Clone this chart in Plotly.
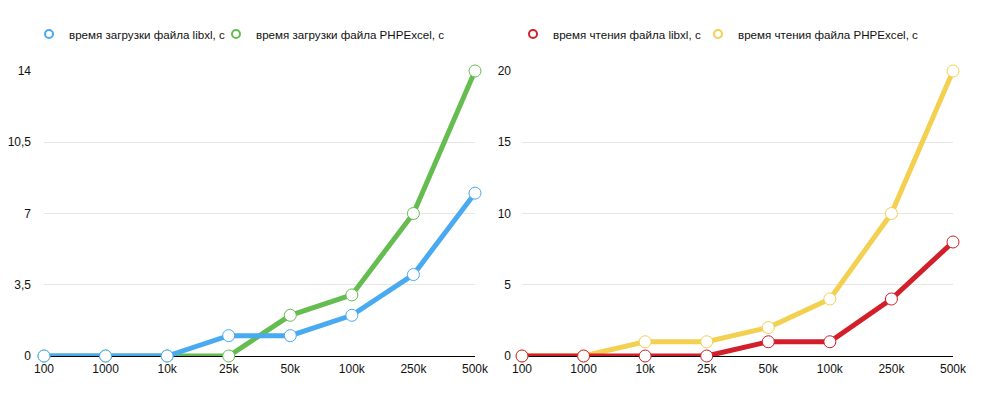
import plotly.graph_objects as go

categories = ["100", "1000", "10k", "25k", "50k", "100k", "250k", "500k"]
load_libxl = [0, 0, 0, 1, 1, 2, 4, 8]
load_phpexcel = [0, 0, 0, 0, 2, 3, 7, 14]
read_libxl = [0, 0, 0, 0, 1, 1, 4, 8]
read_phpexcel = [0, 0, 1, 1, 2, 4, 10, 20]

left_ticks = [0, 3.5, 7, 10.5, 14]
left_tick_text = ["0", "3,5", "7", "10,5", "14"]
right_ticks = [0, 5, 10, 15, 20]
right_tick_text = ["0", "5", "10", "15", "20"]

BLUE = "#4aaaf0"
GREEN = "#65bd50"
RED = "#d21f2a"
YELLOW = "#f4d050"

W, H = 988, 409

def trace(y, name, color, xa, ya):
    return go.Scatter(
        x=categories, y=y, name=name, mode="lines+markers",
        line=dict(color=color, width=5),
        marker=dict(size=12, color="white", line=dict(color=color, width=1)),
        xaxis=xa, yaxis=ya, showlegend=False, cliponaxis=False,
    )

def legend_entry(name, color, xa, ya, legend):
    return go.Scatter(
        x=[None], y=[None], name=name, mode="markers",
        marker=dict(size=8, color="white", line=dict(color=color, width=2)),
        xaxis=xa, yaxis=ya, legend=legend, showlegend=True,
    )

fig = go.Figure()
# lower layers first so the first series of each chart is drawn on top
fig.add_trace(trace(load_phpexcel, "время загрузки файла PHPExcel, с", GREEN, "x", "y"))
fig.add_trace(trace(load_libxl, "время загрузки файла libxl, с", BLUE, "x", "y"))
fig.add_trace(trace(read_phpexcel, "время чтения файла PHPExcel, с", YELLOW, "x2", "y2"))
fig.add_trace(trace(read_libxl, "время чтения файла libxl, с", RED, "x2", "y2"))

fig.add_trace(legend_entry("время загрузки файла libxl, с", BLUE, "x", "y", "legend"))
fig.add_trace(legend_entry("время загрузки файла PHPExcel, с", GREEN, "x", "y", "legend2"))
fig.add_trace(legend_entry("время чтения файла libxl, с", RED, "x2", "y2", "legend3"))
fig.add_trace(legend_entry("время чтения файла PHPExcel, с", YELLOW, "x2", "y2", "legend4"))

ydom = [(H - 356) / H, (H - 71) / H]
font = dict(family="Liberation Sans, Arial, sans-serif", size=12, color="#111111")
legfont = dict(family="Liberation Sans, Arial, sans-serif", size=11.6, color="#111111")

xcommon = dict(
    type="category", range=[0, 7], showgrid=False, zeroline=False,
    showline=True, linecolor="#000000", linewidth=1, layer="below traces",
    ticks="", ticklabelstandoff=2, tickfont=font, fixedrange=True,
    automargin=False,
)
ycommon = dict(
    showgrid=True, gridcolor="#e6e6e6", gridwidth=1, zeroline=False,
    showline=False, ticks="", tickfont=font, layer="below traces",
    fixedrange=True, automargin=False,
)

def leg(xpx):
    return dict(orientation="h", x=xpx / W, xanchor="left", y=(H - 34) / H,
                yanchor="middle", font=legfont, bgcolor="rgba(0,0,0,0)",
                itemwidth=30)

fig.update_layout(
    width=W, height=H,
    margin=dict(l=0, r=0, t=0, b=0),
    paper_bgcolor="white", plot_bgcolor="white",
    font=font,
    xaxis=dict(domain=[44 / W, 475 / W], anchor="y", **xcommon),
    xaxis2=dict(domain=[522 / W, 953 / W], anchor="y2", **xcommon),
    yaxis=dict(domain=ydom, anchor="x", range=[0, 14], tickvals=left_ticks,
               ticktext=left_tick_text, ticklabelstandoff=12, **ycommon),
    yaxis2=dict(domain=ydom, anchor="x2", range=[0, 20], tickvals=right_ticks,
                ticktext=right_tick_text, ticklabelstandoff=10, **ycommon),
    legend=leg(29),
    legend2=leg(216),
    legend3=leg(513),
    legend4=leg(698),
    showlegend=True,
)

fig.write_html("out.html", post_script="document.body.style.margin='0';",
               config={"displayModeBar": False})
